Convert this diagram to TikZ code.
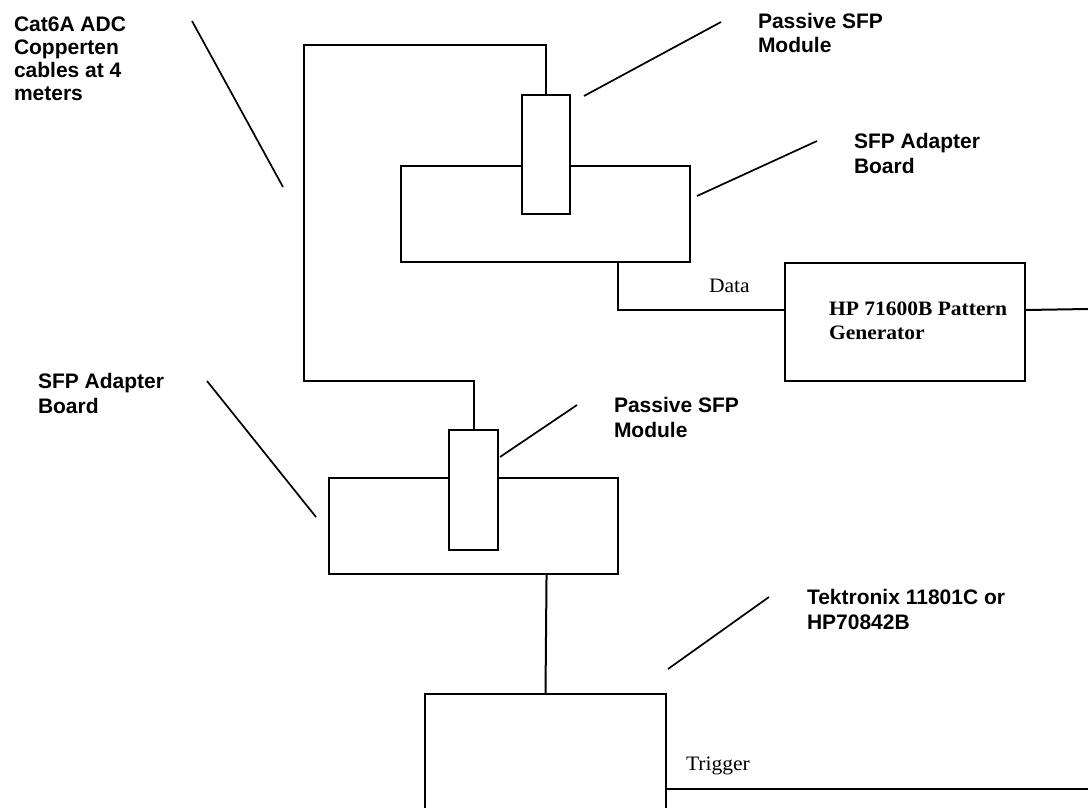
\documentclass[tikz,border=0pt]{standalone}
\usepackage{fontspec}
\newfontfamily\labfont{Liberation Sans}
\newfontfamily\serfont[FakeStretch=1.05]{Liberation Serif}
\usetikzlibrary{calc}
\begin{document}
\begin{tikzpicture}[x=1pt,y=-1pt,
  line width=2pt,
  box/.style={draw, rectangle, fill=white, anchor=north west, inner sep=0pt, line width=2pt},
  lbl/.style={anchor=base west, inner sep=0pt, align=left, font=\labfont\bfseries\fontsize{21}{24.5}\selectfont},
  sertext/.style={anchor=base west, inner sep=0pt, font=\serfont\fontsize{20.5}{24}\selectfont},
  bolds/.style={anchor=base west, inner sep=0pt, align=left, font=\serfont\bfseries\fontsize{20.5}{24}\selectfont},
  wire/.style={line width=2pt, line cap=butt},
  leader/.style={line width=1.7pt, line cap=butt}]
\clip (0,0) rectangle (1088,808);
\fill[white] (0,0) rectangle (1088,808);

% boxes
\node[box, minimum width=289pt, minimum height=96pt] (tboard) at (400,165) {};
\node[box, minimum width=48pt, minimum height=119pt] (tmod) at (521,94) {};
\node[box, minimum width=240pt, minimum height=118pt] (hp) at (784,262) {};
\node[box, minimum width=289pt, minimum height=96pt] (bboard) at (328,477) {};
\node[box, minimum width=49pt, minimum height=120pt] (bmod) at (448,429) {};
\node[box, minimum width=241pt, minimum height=140pt] (tek) at (424,693) {};

% cable coordinates
\coordinate (c1) at (304,45);
\coordinate (c2) at (304,381);
\coordinate (dataR) at (1088,309);
\coordinate (trigR) at (1088,789);

% cable between modules
\draw[wire] (tmod.north) |- (c1) -- (c2) -| (bmod.north);
% data line
\coordinate (hpin) at ($(hp.north west)!0.4!(hp.south west)$);
\coordinate (tbout) at ($(tboard.south west)!0.749!(tboard.south east)$);
\draw[wire] (tbout) |- (hpin);
\draw[wire] (hp.east |- hpin) -- (dataR);
% board to scope
\coordinate (bbout) at ($(bboard.south west)!0.751!(bboard.south east)$);
\draw[wire] (bbout) -- (tek.north);
% trigger
\draw[wire] (tek.east |- trigR) -- (trigR);

% labels (anchor = baseline of last line)
\node[lbl, font=\labfont\bfseries\fontsize{21}{22.8}\selectfont] (lcat) at (13,100) {Cat6A ADC\\Copperten\\cables at 4\\meters};
\node[lbl] (lpass1) at (757,53) {Passive SFP\\Module};
\node[lbl] (ladap1) at (853,173) {SFP Adapter\\Board};
\node[lbl] (ladap2) at (37,413) {SFP Adapter\\Board};
\node[lbl] (lpass2) at (613,437) {Passive SFP\\Module};
\node[lbl] (ltek) at (806,629) {Tektronix 11801C or\\HP70842B};
\node[sertext] (ldata) at (708,292) {Data};
\node[sertext] (ltrig) at (685,770) {Trigger};
\node[bolds] (lhp) at (828,339) {HP 71600B Pattern\\Generator};

% leader lines
\coordinate (a1) at (192,21);  \coordinate (b1) at (283,187);
\coordinate (a2) at (721,22);  \coordinate (b2) at (584,96);
\coordinate (a3) at (817,141); \coordinate (b3) at (697,196);
\coordinate (a4) at (207,381); \coordinate (b4) at (316,517);
\coordinate (a5) at (577,405); \coordinate (b5) at (500,457);
\coordinate (a6) at (769,597); \coordinate (b6) at (668,669);
\draw[leader] (a1) -- (b1);
\draw[leader] (a2) -- (b2);
\draw[leader] (a3) -- (b3);
\draw[leader] (a4) -- (b4);
\draw[leader] (a5) -- (b5);
\draw[leader] (a6) -- (b6);
\end{tikzpicture}
\end{document}
